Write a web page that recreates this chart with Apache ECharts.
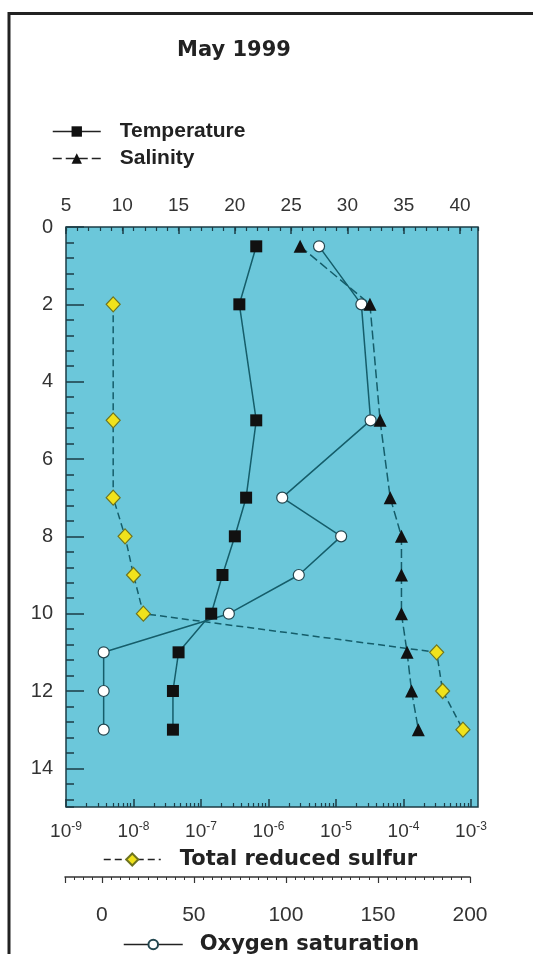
<!DOCTYPE html>
<html>
<head>
<meta charset="utf-8">
<script src="https://cdn.jsdelivr.net/npm/echarts@6/dist/echarts.min.js"></script>
<style>
html, body { margin: 0; padding: 0; background: #fff; }
#main { width: 533px; height: 954px; }
</style>
</head>
<body>
<div id="main"></div>
<script>
// depth (m) of each cast sample
var depth = [0.5, 2, 5, 7, 8, 9, 10, 11, 12, 13];
var temperature = [21.9, 20.4, 21.9, 21.0, 20.0, 18.9, 17.9, 15.0, 14.5, 14.5];
var salinity = [25.8, 32.0, 32.9, 33.8, 34.8, 34.8, 34.8, 35.3, 35.7, 36.3];
var oxygen = [118, 141, 146, 98, 130, 107, 69, 1, 1, 1];
// sulfur was not sampled at 0.5 m
var sulfurDepth = [2, 5, 7, 8, 9, 10, 11, 12, 13];
var sulfur = [5e-9, 5e-9, 5e-9, 7.5e-9, 1.0e-8, 1.4e-8, 3.1e-4, 3.8e-4, 7.6e-4];

var sulfurMinor = [];
for (var e = -9; e < -3; e++) {
    for (var k = 2; k <= 9; k++) sulfurMinor.push(k * Math.pow(10, e));
}

function pairs(xs, ys) {
    return xs.map(function (x, i) { return [x, ys[i]]; });
}

var ink = '#333';
var tickCol = '#1d3d46';
var lineCol = '#155d6a';
var arial = 'Liberation Sans';
var wide = 'DejaVu Sans';

var dom = document.getElementById('main');
var myChart = echarts.init(dom);

function depthAxis(grid, hidden, interval, len) {
    return {
        gridIndex: grid,
        type: 'value',
        position: 'left',
        inverse: true,
        min: 0,
        max: 15,
        interval: interval,
        show: !hidden,
        axisLine: { show: false, onZero: false },
        splitLine: { show: false },
        axisTick: { show: true, inside: true, length: len, lineStyle: { color: tickCol, width: 1.5 } },
        axisLabel: { show: interval === 2, margin: 13, fontSize: 20, color: ink, fontFamily: arial, showMaxLabel: false }
    };
}

option = {
    animation: false,
    title: {
        text: 'May 1999',
        left: 177,
        top: 40,
        padding: 0,
        textStyle: { fontFamily: wide, fontWeight: 'bold', fontSize: 21, color: '#222' }
    },
    graphic: [{
        type: 'rect',
        silent: true,
        shape: { x: 9, y: 13.5, width: 600, height: 1000 },
        style: { fill: 'none', stroke: '#222', lineWidth: 3 }
    }],
    legend: [{
        data: ['Temperature', 'Salinity'],
        orient: 'vertical',
        left: 52,
        top: 121,
        padding: 0,
        itemWidth: 48,
        itemHeight: 13,
        itemGap: 6,
        selectedMode: false,
        lineStyle: { color: '#222', width: 1.5 },
        textStyle: { fontFamily: arial, fontWeight: 'bold', fontSize: 21, color: '#222', padding: [0, 0, 0, 14] }
    }, {
        data: ['Total reduced sulfur'],
        left: 103,
        top: 849,
        padding: 0,
        itemWidth: 57,
        itemHeight: 15,
        selectedMode: false,
        lineStyle: { color: '#222', width: 1.5 },
        textStyle: { fontFamily: wide, fontWeight: 'bold', fontSize: 21, color: '#222', padding: [0, 0, 0, 14] }
    }, {
        data: ['Oxygen saturation'],
        left: 123,
        top: 934,
        padding: 0,
        itemWidth: 59,
        itemHeight: 12,
        selectedMode: false,
        lineStyle: { color: '#222', width: 1.5 },
        textStyle: { fontFamily: wide, fontWeight: 'bold', fontSize: 21, color: '#222', padding: [0, 0, 0, 12] }
    }],
    grid: [
        { left: 66, right: 55, top: 227, bottom: 147, show: true, backgroundColor: '#6bc7da', borderColor: tickCol, borderWidth: 1.5 },
        { left: 66, right: 62, top: 227, bottom: 147 },
        { left: 65, right: 63, top: 227, bottom: 147 }
    ],
    xAxis: [{
        gridIndex: 0, type: 'value', position: 'top', min: 5, max: 41.6, interval: 5,
        axisLine: { show: false, onZero: false }, splitLine: { show: false },
        axisTick: { inside: true, length: 7, lineStyle: { color: tickCol, width: 1.5 } },
        axisLabel: { margin: 12, fontSize: 19, color: ink, fontFamily: arial, showMaxLabel: false }
    }, {
        gridIndex: 0, type: 'value', position: 'top', min: 5, max: 41.6, interval: 1,
        axisLine: { show: false, onZero: false }, splitLine: { show: false },
        axisTick: { inside: true, length: 4, lineStyle: { color: tickCol, width: 1.2 } },
        axisLabel: { show: false }
    }, {
        gridIndex: 1, type: 'log', logBase: 10, position: 'bottom', min: 1e-9, max: 1e-3,
        axisLine: { show: false, onZero: false }, splitLine: { show: false },
        axisTick: { inside: true, length: 8, lineStyle: { color: tickCol, width: 1.5 } },
        axisLabel: {
            margin: 14, color: ink,
            formatter: function (v) { return '{b|10}{s|' + Math.round(Math.log10(v)) + '}'; },
            rich: {
                b: { fontSize: 19, fontFamily: arial, color: ink, lineHeight: 22 },
                s: { fontSize: 12, fontFamily: arial, color: ink, verticalAlign: 'top', lineHeight: 12 }
            }
        }
    }, {
        gridIndex: 1, type: 'log', logBase: 10, position: 'bottom', min: 1e-9, max: 1e-3,
        axisLine: { show: false, onZero: false }, splitLine: { show: false },
        axisTick: { inside: true, length: 4, customValues: sulfurMinor, lineStyle: { color: tickCol, width: 1.2 } },
        axisLabel: { show: false }
    }, {
        gridIndex: 2, type: 'value', position: 'bottom', offset: 70, min: -20, max: 200,
        axisLine: { show: true, onZero: false, lineStyle: { color: '#333', width: 1.5 } }, splitLine: { show: false },
        axisTick: { inside: false, length: 6, lineStyle: { color: '#333', width: 1.2 } },
        axisLabel: {
            margin: 28, fontSize: 21, color: ink, fontFamily: arial,
            formatter: function (v) { return v < 0 ? '' : v; }
        }
    }, {
        gridIndex: 2, type: 'value', position: 'bottom', offset: 70, min: -20, max: 200, interval: 5,
        axisLine: { show: false, onZero: false }, splitLine: { show: false },
        axisTick: { inside: false, length: 3, lineStyle: { color: '#333', width: 1 } },
        axisLabel: { show: false }
    }],
    yAxis: [
        depthAxis(0, false, 2, 18),
        depthAxis(0, false, 0.4, 8),
        depthAxis(1, true, 2, 8),
        depthAxis(2, true, 2, 8)
    ],
    series: [{
        name: 'Total reduced sulfur',
        type: 'line',
        xAxisIndex: 2, yAxisIndex: 2,
        data: pairs(sulfur, sulfurDepth),
        symbol: 'diamond', symbolSize: [14, 15],
        itemStyle: { color: '#f0e21c', borderColor: '#6e7420', borderWidth: 1.2 },
        lineStyle: { color: lineCol, width: 1.5, type: [7, 4] }
    }, {
        name: 'Oxygen saturation',
        type: 'line',
        xAxisIndex: 4, yAxisIndex: 3,
        data: pairs(oxygen, depth),
        symbol: 'circle', symbolSize: 11,
        itemStyle: { color: '#fff', borderColor: '#23464f', borderWidth: 1.2 },
        lineStyle: { color: lineCol, width: 1.5 }
    }, {
        name: 'Temperature',
        type: 'line',
        xAxisIndex: 0, yAxisIndex: 0,
        data: pairs(temperature, depth),
        symbol: 'rect', symbolSize: 12,
        itemStyle: { color: '#111' },
        lineStyle: { color: lineCol, width: 1.5 }
    }, {
        name: 'Salinity',
        type: 'line',
        xAxisIndex: 0, yAxisIndex: 0,
        data: pairs(salinity, depth),
        symbol: 'triangle', symbolSize: 13,
        itemStyle: { color: '#111' },
        lineStyle: { color: lineCol, width: 1.5, type: [9, 4] }
    }]
};

if (option && typeof option == "object") {
    myChart.setOption(option, true);
}
</script>
</body>
</html>
